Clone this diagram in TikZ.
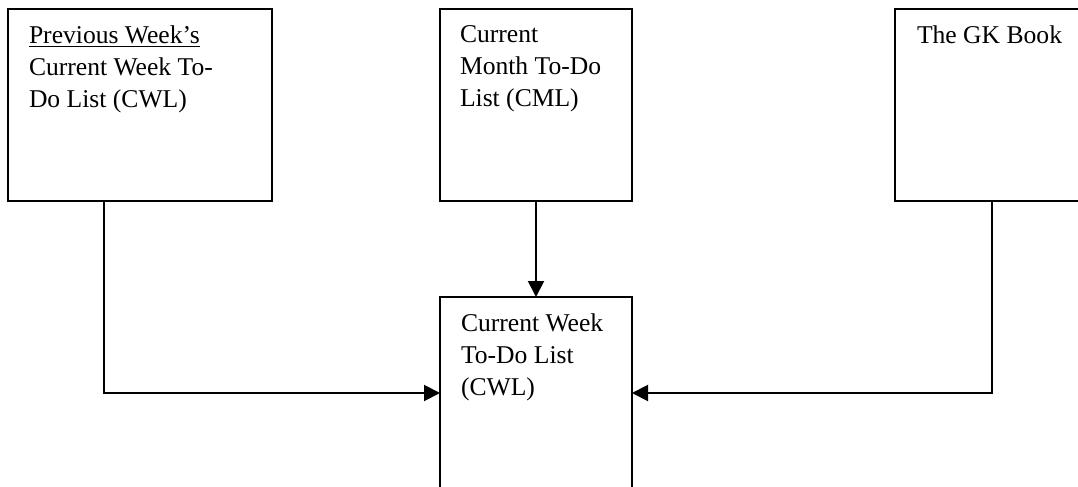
\documentclass[tikz,border=0pt]{standalone}
\usepackage{fontspec}
\setmainfont{Liberation Serif}
\usetikzlibrary{arrows.meta,positioning}

\begin{document}
\begin{tikzpicture}[x=0.5pt, y=-0.5pt, inner sep=0pt, outer sep=0pt,
->, >={Triangle[length=8pt,width=8pt]}, line width=1pt,
box/.style={draw, anchor=north west, minimum height=96pt},
txt/.style={anchor=north west, align=left, font=\fontsize{12.8}{16}\selectfont}]
\clip (0,0) rectangle (1078,487);
\node[box, minimum width=132pt] (PW) at (8,9) {};
\node[box, minimum width=96pt] (CM) at (440,9) {};
\node[box, minimum width=97pt] (GK) at (895,9) {};
\node[box, minimum width=96pt] (CW) at (440,297) {};
\node[txt] (PWt) [below right=8.3pt and 10.5pt of PW.north west] {\underline{Previous Week’s}\\Current Week To-\\Do List (CWL)};
\node[txt] (CMt) [below right=8.3pt and 10pt of CM.north west] {Current\\Month To-Do\\List (CML)};
\node[txt] (GKt) [below right=8.3pt and 11pt of GK.north west] {The GK Book};
\node[txt] (CWt) [below right=8.3pt and 10.5pt of CW.north west] {Current Week\\To-Do List\\(CWL)};
\draw ([xshift=48pt]PW.south west) |- (CW.west);
\draw (CM) -- (CW);
\draw (GK.south) |- (CW.east);
\end{tikzpicture}
\end{document}
